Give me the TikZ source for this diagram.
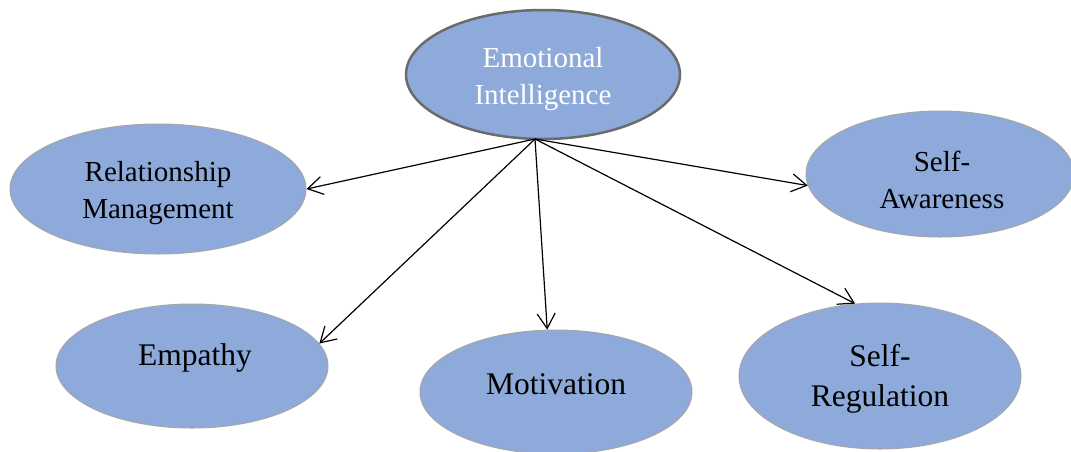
\documentclass[tikz,border=0pt]{standalone}
\usepackage{fontspec}
\setmainfont{Liberation Serif}
\usetikzlibrary{shapes.geometric,arrows.meta}
\definecolor{bubble}{HTML}{8EAADB}
\definecolor{rim}{HTML}{A6A6A6}
\definecolor{rimdark}{HTML}{6B6B6B}
\tikzset{
  bubble/.style={ellipse, fill=bubble, draw=rim, line width=1pt, inner sep=0pt},
  hubbubble/.style={bubble, draw=rimdark, line width=2.5pt},
  txt/.style={align=center, inner sep=0pt, font=\fontsize{29}{37.5}\selectfont},
  bigtxt/.style={align=center, inner sep=0pt, font=\fontsize{31.5}{39.5}\selectfont},
  link/.style={line width=1.2pt, -{Straight Barb[length=15pt,width=18pt,line width=1.2pt]}}
}
\begin{document}
\begin{tikzpicture}[x=1pt,y=-1pt]
  \useasboundingbox (0,0) rectangle (1071,451);
  \fill[white] (0,0) rectangle (1071,451);
  \clip (0,0) rectangle (1071,451);

  % ellipses
  \node[hubbubble, minimum width=274pt, minimum height=129pt] (ei) at (543,74.5) {};
  \node[bubble, minimum width=296pt, minimum height=130pt] (rm) at (158,189) {};
  \node[bubble, minimum width=268pt, minimum height=126pt] (sa) at (940,174) {};
  \node[bubble, minimum width=272pt, minimum height=124pt] (emp) at (192,366) {};
  \node[bubble, minimum width=272pt, minimum height=124pt] (mot) at (556,392) {};
  \node[bubble, minimum width=282pt, minimum height=146pt] (sr) at (880,376) {};

  % labels
  \node[txt, text=white] (eit) at (543,79) {Emotional\\Intelligence};
  \node[txt] (rmt) at (158,193) {Relationship\\Management};
  \node[txt] (sat) at (942,180) {Self-\\Awareness};
  \node[bigtxt] (empt) at (195,358) {Empathy};
  \node[bigtxt] (mott) at (556,384) {Motivation};
  \node[bigtxt] (srt) at (880,379) {Self-\\Regulation};

  % connectors
  \coordinate (hub) at (535,139);
  \draw[link] (hub) -- (rm.east);
  \draw[link] (hub) -- (emp.10.6);
  \draw[link] (hub) -- (mot.98);
  \draw[link] (hub) -- (sr.109);
  \draw[link] (hub) -- (sa.185.5);
\end{tikzpicture}
\end{document}
